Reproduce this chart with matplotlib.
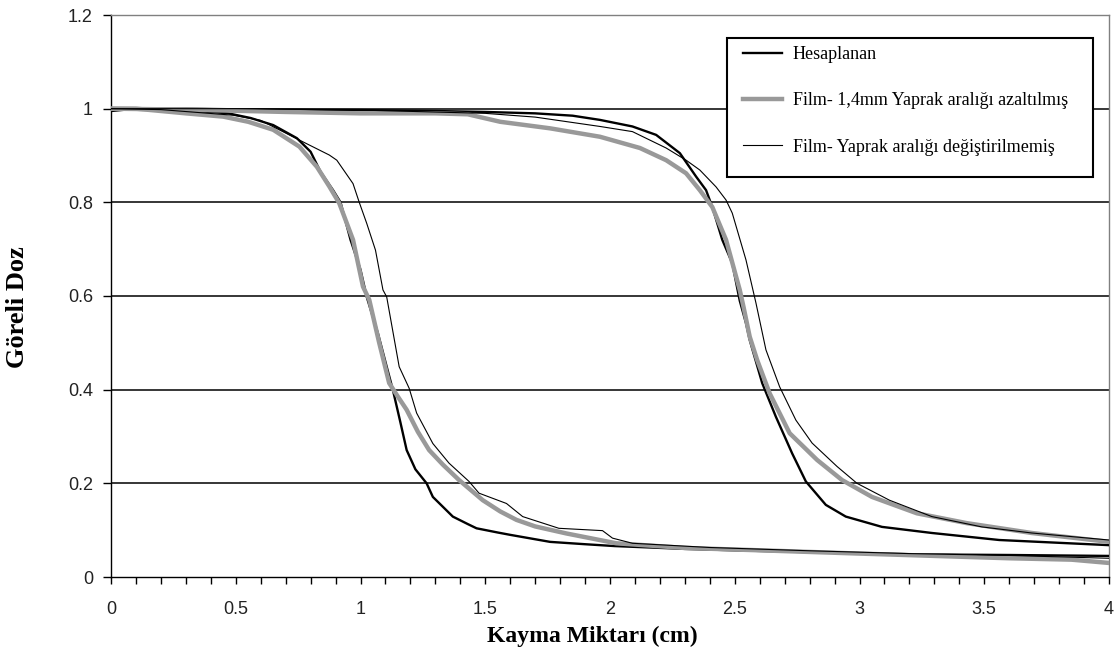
import matplotlib
matplotlib.use("Agg")
import matplotlib.pyplot as plt
from matplotlib.ticker import MultipleLocator
from matplotlib.patches import Rectangle

# ---- data ----
calc_left_x = [0, 0.1, 0.2, 0.3, 0.4, 0.47, 0.56, 0.65, 0.745, 0.80, 0.84, 0.89, 0.92, 0.96, 1.0, 1.025, 1.07, 1.105, 1.13, 1.16, 1.185, 1.22, 1.265, 1.29, 1.33, 1.37, 1.43, 1.465, 1.55, 1.6, 1.76, 1.9, 2.02, 2.3, 2.5, 2.8, 3.0, 3.3, 3.6, 4.0]
calc_left_y = [0.995, 1.0, 0.998, 0.995, 0.993, 0.99, 0.98, 0.965, 0.937, 0.908, 0.865, 0.826, 0.80, 0.72, 0.656, 0.598, 0.52, 0.449, 0.399, 0.33, 0.271, 0.23, 0.2, 0.171, 0.15, 0.129, 0.113, 0.104, 0.095, 0.09, 0.075, 0.07, 0.066, 0.06, 0.057, 0.053, 0.05, 0.048, 0.047, 0.045]

calc_right_x = [0, 0.3, 0.6, 1.0, 1.3, 1.5, 1.7, 1.85, 1.96, 2.09, 2.185, 2.28, 2.345, 2.385, 2.41, 2.45, 2.49, 2.52, 2.545, 2.56, 2.61, 2.665, 2.73, 2.785, 2.865, 2.945, 3.09, 3.29, 3.56, 3.8, 4.0]
calc_right_y = [1.0, 1.0, 0.998, 0.997, 0.995, 0.993, 0.99, 0.985, 0.976, 0.962, 0.944, 0.905, 0.855, 0.826, 0.79, 0.72, 0.67, 0.59, 0.542, 0.506, 0.414, 0.342, 0.264, 0.204, 0.154, 0.129, 0.107, 0.094, 0.079, 0.073, 0.068]

film14_left_x = [0, 0.1, 0.2, 0.3, 0.45, 0.55, 0.65, 0.755, 0.825, 0.875, 0.915, 0.97, 1.01, 1.035, 1.075, 1.115, 1.15, 1.185, 1.23, 1.275, 1.33, 1.395, 1.49, 1.56, 1.625, 1.7, 1.825, 2.025, 2.3, 2.6, 3.0, 3.3, 3.6, 3.85, 4.0]
film14_left_y = [1.0, 1.0, 0.995, 0.99, 0.983, 0.972, 0.955, 0.919, 0.876, 0.834, 0.798, 0.72, 0.62, 0.592, 0.5, 0.414, 0.385, 0.357, 0.31, 0.271, 0.24, 0.207, 0.164, 0.14, 0.122, 0.108, 0.093, 0.072, 0.062, 0.057, 0.05, 0.045, 0.04, 0.037, 0.03]

film14_right_x = [0, 0.3, 0.7, 1.0, 1.3, 1.43, 1.56, 1.76, 1.96, 2.12, 2.225, 2.305, 2.36, 2.41, 2.465, 2.52, 2.535, 2.56, 2.59, 2.64, 2.72, 2.83, 2.93, 3.05, 3.23, 3.43, 3.69, 4.0]
film14_right_y = [1.0, 0.998, 0.993, 0.99, 0.99, 0.988, 0.972, 0.958, 0.94, 0.916, 0.89, 0.862, 0.826, 0.79, 0.72, 0.613, 0.577, 0.513, 0.463, 0.392, 0.307, 0.25, 0.207, 0.171, 0.136, 0.115, 0.094, 0.075]

film_left_x = [0, 0.2, 0.49, 0.6, 0.755, 0.875, 0.905, 0.97, 0.995, 1.025, 1.06, 1.09, 1.105, 1.155, 1.195, 1.225, 1.29, 1.355, 1.435, 1.475, 1.585, 1.65, 1.795, 1.97, 2.01, 2.09, 2.4, 2.8, 3.2, 3.6, 4.0]
film_left_y = [1.0, 0.998, 0.986, 0.975, 0.933, 0.901, 0.89, 0.84, 0.80, 0.755, 0.698, 0.613, 0.598, 0.449, 0.403, 0.35, 0.285, 0.243, 0.204, 0.179, 0.157, 0.129, 0.104, 0.099, 0.083, 0.072, 0.063, 0.056, 0.05, 0.046, 0.04]

film_right_x = [0, 0.5, 1.0, 1.5, 1.7, 1.96, 2.09, 2.225, 2.305, 2.36, 2.425, 2.465, 2.49, 2.545, 2.585, 2.625, 2.68, 2.745, 2.81, 2.91, 2.99, 3.12, 3.29, 3.49, 3.69, 4.0]
film_right_y = [1.0, 1.0, 0.997, 0.99, 0.982, 0.962, 0.951, 0.916, 0.89, 0.869, 0.833, 0.805, 0.777, 0.677, 0.585, 0.485, 0.406, 0.335, 0.286, 0.236, 0.2, 0.164, 0.129, 0.107, 0.094, 0.079]

series_labels = ["Hesaplanan", "Film- 1,4mm Yaprak aralığı azaltılmış", "Film- Yaprak aralığı değiştirilmemiş"]
x_label = "Kayma Miktarı (cm)"
y_label = "Göreli Doz"
x_tick_vals = [0, 0.5, 1, 1.5, 2, 2.5, 3, 3.5, 4]
x_tick_labels = ["0", "0.5", "1", "1.5", "2", "2.5", "3", "3.5", "4"]
y_tick_vals = [0, 0.2, 0.4, 0.6, 0.8, 1.0, 1.2]
y_tick_labels = ["0", "0.2", "0.4", "0.6", "0.8", "1", "1.2"]

# ---- figure ----
W, H = 1120, 657
fig = plt.figure(figsize=(W/100, H/100), dpi=100)
ax = fig.add_axes([111/W, 1-577/H, (1109-111)/W, (577-15)/H])

ax.set_xlim(0, 4)
ax.set_ylim(0, 1.2)

for gy in y_tick_vals[1:-1]:
    ax.axhline(gy, color="black", lw=1.1, zorder=1)

black_kw = dict(color="black", lw=1.7, zorder=3)
gray_kw = dict(color="#999999", lw=3.2, zorder=4)
thin_kw = dict(color="black", lw=0.8, zorder=5)

ax.plot(calc_left_x, calc_left_y, label=series_labels[0], **black_kw)
ax.plot(calc_right_x, calc_right_y, **black_kw)
ax.plot(film14_left_x, film14_left_y, label=series_labels[1], **gray_kw)
ax.plot(film14_right_x, film14_right_y, **gray_kw)
ax.plot(film_left_x, film_left_y, label=series_labels[2], **thin_kw)
ax.plot(film_right_x, film_right_y, **thin_kw)

for s in ["top", "right"]:
    ax.spines[s].set_color("#808080")
    ax.spines[s].set_linewidth(1.0)
for s in ["left", "bottom"]:
    ax.spines[s].set_color("black")
    ax.spines[s].set_linewidth(1.0)

ax.xaxis.set_minor_locator(MultipleLocator(0.1))
ax.set_xticks(x_tick_vals)
ax.set_xticklabels(x_tick_labels)
ax.set_yticks(y_tick_vals)
ax.set_yticklabels(y_tick_labels)

for lab in ax.get_xticklabels() + ax.get_yticklabels():
    lab.set_fontfamily("Liberation Sans")
    lab.set_fontsize(13)
    lab.set_color("#222222")
ax.tick_params(axis="x", which="both", direction="out", length=5, width=1, pad=12, colors="black", labelcolor="#222222")
ax.tick_params(axis="y", which="major", direction="out", length=6, width=1, pad=7, colors="black", labelcolor="#222222")

fig.text(592/W, 1-636/H, x_label, family="Liberation Serif", weight="bold",
         size=17, ha="center", va="center")
fig.text(18/W, 1-307/H, y_label, family="Liberation Serif", weight="bold",
         size=19, ha="center", va="center", rotation=90)

# legend box (drawn as a rectangle like the original) and entries
box = Rectangle((727/W, 1-177/H), (1093-727)/W, (177-38)/H,
                transform=fig.transFigure, facecolor="white",
                edgecolor="black", lw=1.5, zorder=6, clip_on=False)
ax.add_patch(box)
leg = ax.legend(loc="upper left", bbox_to_anchor=(743/W, 1-46/H),
                bbox_transform=fig.transFigure,
                prop=dict(family="Liberation Serif", size=13),
                frameon=False, handlelength=2.15, handletextpad=0.6,
                labelspacing=1.62, borderpad=0, borderaxespad=0)
leg.set_zorder(7)

fig.savefig("out.png", dpi=100)
